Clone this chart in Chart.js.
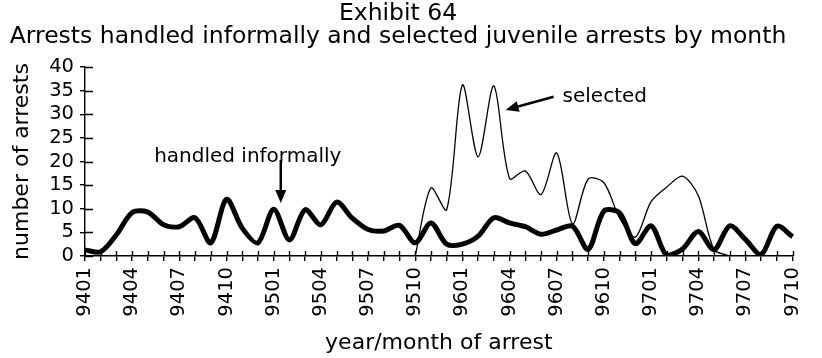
<!DOCTYPE html>
<html>
<head>
<meta charset="utf-8">
<title>Exhibit 64</title>
<script src="https://cdn.jsdelivr.net/npm/chart.js@4.4.0/dist/chart.umd.min.js"></script>
<style>
	html, body { margin: 0; padding: 0; background: #fff; }
</style>
</head>
<body>
<canvas id="arrestChart" width="822" height="358"></canvas>
<script>
// year/month of arrest
var months = ['9401','9402','9403','9404','9405','9406','9407','9408','9409','9410','9411','9412',
	'9501','9502','9503','9504','9505','9506','9507','9508','9509','9510','9511','9512',
	'9601','9602','9603','9604','9605','9606','9607','9608','9609','9610','9611','9612',
	'9701','9702','9703','9704','9705','9706','9707','9708','9709','9710'];

// only every third month gets a label
var tickMonths = ['9401','9404','9407','9410','9501','9504','9507','9510',
	'9601','9604','9607','9610','9701','9704','9707','9710'];

// arrests handled informally (thick line)
var handledInformally = [1.3, 0.9, 4.5, 9.2, 9.3, 6.6, 6.2, 8.1, 2.8, 12.0, 5.9, 2.8,
	9.9, 3.4, 9.8, 6.6, 11.4, 8.0, 5.6, 5.3, 6.5, 2.8, 7.0, 2.5,
	2.5, 4.2, 8.1, 7.0, 6.2, 4.6, 5.5, 6.3, 1.4, 9.5, 9.1, 2.6,
	6.4, 0.1, 1.5, 5.2, 1.3, 6.4, 3.5, 0.3, 6.3, 4.1];

// selected juvenile arrests (thin line), only 9510 - 9706
var selectedArrests = [null, null, null, null, null, null, null, null, null, null, null, null,
	null, null, null, null, null, null, null, null, null, 0, 14.4, 9.8,
	36.2, 21.0, 36.0, 16.4, 18.0, 13.0, 21.8, 6.8, 16.3, 15.5, 8.0, 4.0,
	11.5, 14.6, 16.9, 12.8, 1.4, 0, null, null, null, null];

var FONT = 'DejaVu Sans';

// arrows + labels, and the inner half of the tick marks
var notesPlugin = {
	id : 'notes',
	beforeDatasetsDraw : function(chart) {
		var ctx = chart.ctx;
		var xs = chart.scales.x;
		var ys = chart.scales.y;
		var area = chart.chartArea;
		ctx.save();
		ctx.strokeStyle = '#000';
		ctx.lineWidth = 1.4;
		ctx.beginPath();
		ys.ticks.forEach(function(t) {
			var y = Math.round(ys.getPixelForValue(t.value)) + 0.5;
			ctx.moveTo(area.left, y);
			ctx.lineTo(area.left + 8, y);
		});
		for (var i = 0; i < months.length; i++) {
			var x = Math.round(xs.getPixelForValue(i)) + 0.5;
			ctx.moveTo(x, area.bottom);
			ctx.lineTo(x, area.bottom - 5);
		}
		ctx.stroke();
		ctx.restore();
	},
	afterDatasetsDraw : function(chart) {
		var ctx = chart.ctx;
		var xs = chart.scales.x;
		var ys = chart.scales.y;
		ctx.save();
		ctx.fillStyle = '#000';
		ctx.strokeStyle = '#000';
		ctx.font = '20px "' + FONT + '"';

		// handled informally
		var ax = xs.getPixelForValue(12.45);
		drawArrow(ctx, ax, ys.getPixelForValue(20.3), ax, ys.getPixelForValue(11.2));
		ctx.textAlign = 'center';
		ctx.textBaseline = 'alphabetic';
		ctx.fillText('handled informally', ax - 33, ys.getPixelForValue(19.8));

		// selected
		var tx = xs.getPixelForValue(29.8), ty = ys.getPixelForValue(33.7);
		drawArrow(ctx, tx, ty, xs.getPixelForValue(26.75), ys.getPixelForValue(30.9));
		ctx.textAlign = 'left';
		ctx.textBaseline = 'middle';
		ctx.fillText('selected', tx + 9, ty);
		ctx.restore();
	}
};

function drawArrow(ctx, x1, y1, x2, y2) {
	var ang = Math.atan2(y2 - y1, x2 - x1);
	var len = 13, half = 5.5;
	var bx = x2 - len * Math.cos(ang), by = y2 - len * Math.sin(ang);
	ctx.lineWidth = 2.5;
	ctx.beginPath();
	ctx.moveTo(x1, y1);
	ctx.lineTo(bx, by);
	ctx.stroke();
	ctx.beginPath();
	ctx.moveTo(x2, y2);
	ctx.lineTo(bx + half * Math.sin(ang), by - half * Math.cos(ang));
	ctx.lineTo(bx - half * Math.sin(ang), by + half * Math.cos(ang));
	ctx.closePath();
	ctx.fill();
}

var chartData = {
	labels : months,
	datasets : [ {
		label : 'handled informally',
		data : handledInformally,
		borderColor : '#000',
		borderWidth : 5,
		pointRadius : 0,
		tension : 0.3,
		fill : false
	}, {
		label : 'selected',
		data : selectedArrests,
		borderColor : '#000',
		borderWidth : 1.3,
		pointRadius : 0,
		tension : 0.3,
		spanGaps : false,
		fill : false
	} ]
};

var chartOptions = {
	responsive : false,
	animation : false,
	devicePixelRatio : 1,
	layout : {
		padding : { left : 0, right : 26, top : 0, bottom : 0 }
	},
	plugins : {
		legend : { display : false },
		tooltip : { enabled : false },
		title : {
			display : true,
			text : ['Exhibit 64', 'Arrests handled informally and selected juvenile arrests by month'],
			color : '#000',
			font : { family : FONT, size : 23.5, weight : 'normal', lineHeight : 1 },
			padding : { top : 2, bottom : 18 }
		}
	},
	scales : {
		x : {
			offset : false,
			grid : { drawOnChartArea : false, drawTicks : true, tickLength : 5, color : '#000', lineWidth : 1.4 },
			border : { color : '#000', width : 1.4 },
			ticks : {
				color : '#000',
				font : { family : FONT, size : 19.5 },
				autoSkip : false,
				maxRotation : 90,
				minRotation : 90,
				padding : 6,
				callback : function(value, index) {
					var m = months[index];
					return tickMonths.indexOf(m) >= 0 ? m : '';
				}
			},
			title : {
				display : true,
				text : 'year/month of arrest',
				color : '#000',
				font : { family : FONT, size : 22, lineHeight : 1 },
				padding : { top : 0, bottom : 4 }
			},
			afterFit : function(scale) { scale.height = 102; }
		},
		y : {
			min : 0,
			max : 40,
			grid : { drawOnChartArea : false, drawTicks : true, tickLength : 5, color : '#000', lineWidth : 1.4 },
			border : { color : '#000', width : 1.4 },
			ticks : {
				stepSize : 5,
				autoSkip : false,
				color : '#000',
				font : { family : FONT, size : 19.5 },
				padding : 6
			},
			title : {
				display : true,
				text : 'number of arrests',
				color : '#000',
				font : { family : FONT, size : 22, lineHeight : 1 },
				padding : { top : 11, bottom : 0 }
			},
			afterFit : function(scale) { scale.width = 85; }
		}
	}
};

var arrestChart = new Chart(document.getElementById('arrestChart').getContext('2d'), {
	type : 'line',
	data : chartData,
	options : chartOptions,
	plugins : [ notesPlugin ]
});
</script>
</body>
</html>
